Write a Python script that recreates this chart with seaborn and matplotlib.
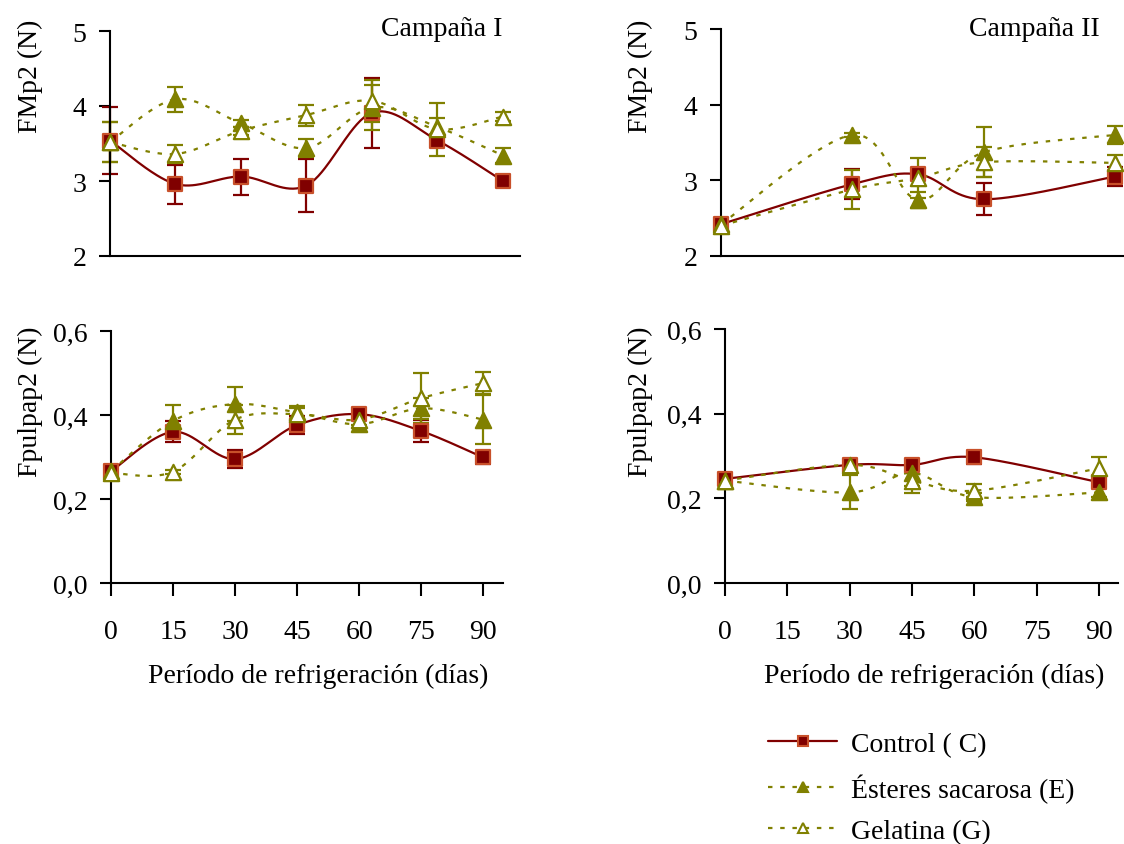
# FMp2 and Fpulpap2 during cold storage, two seasons, three treatments

import numpy as np
import pandas as pd
import seaborn as sns
import matplotlib.pyplot as plt
from matplotlib.lines import Line2D
from matplotlib.ticker import FuncFormatter

# Days of storage
days_I = [0, 15, 30, 45, 60, 75, 90]
days_II = [0, 30, 45, 60, 90]

# FMp2 (N) - Campaña I
fm_I_C = [3.54, 2.96, 3.06, 2.94, 3.91, 3.54, 3.00]
fm_I_C_err = [0.45, 0.26, 0.24, 0.35, 0.47, 0.05, 0.03]
fm_I_E = [3.52, 4.09, 3.77, 3.44, 3.98, 3.72, 3.34]
fm_I_E_err = [0.27, 0.17, 0.05, 0.12, 0.30, 0.12, 0.10]
fm_I_G = [3.52, 3.36, 3.67, 3.88, 4.07, 3.69, 3.86]
fm_I_G_err = [0.27, 0.12, 0.05, 0.14, 0.28, 0.35, 0.06]

# FMp2 (N) - Campaña II
fm_II_C = [2.42, 2.95, 3.08, 2.75, 3.05]
fm_II_C_err = [0.03, 0.20, 0.06, 0.21, 0.13]
fm_II_E = [2.42, 3.60, 2.74, 3.37, 3.60]
fm_II_E_err = [0.03, 0.03, 0.10, 0.33, 0.12]
fm_II_G = [2.40, 2.88, 3.03, 3.24, 3.23]
fm_II_G_err = [0.03, 0.26, 0.27, 0.20, 0.11]

# Fpulpap2 (N) - Campaña I
fp_I_C = [0.266, 0.360, 0.295, 0.376, 0.402, 0.362, 0.299]
fp_I_C_err = [0.010, 0.025, 0.022, 0.022, 0.010, 0.027, 0.015]
fp_I_E = [0.266, 0.386, 0.426, 0.406, 0.378, 0.416, 0.389]
fp_I_E_err = [0.008, 0.038, 0.040, 0.015, 0.010, 0.025, 0.058]
fp_I_G = [0.262, 0.265, 0.389, 0.402, 0.389, 0.440, 0.476]
fp_I_G_err = [0.008, 0.005, 0.035, 0.015, 0.012, 0.060, 0.027]

# Fpulpap2 (N) - Campaña II
fp_II_C = [0.246, 0.279, 0.279, 0.297, 0.238]
fp_II_C_err = [0.010, 0.010, 0.010, 0.015, 0.010]
fp_II_E = [0.242, 0.214, 0.260, 0.203, 0.214]
fp_II_E_err = [0.010, 0.040, 0.030, 0.010, 0.010]
fp_II_G = [0.242, 0.279, 0.242, 0.218, 0.271]
fp_II_G_err = [0.010, 0.010, 0.030, 0.015, 0.026]

labels = ["Control ( C)", "Ésteres sacarosa (E)", "Gelatina (G)"]

sns.set_style("ticks")
plt.rcParams['font.family'] = ['Liberation Serif', 'DejaVu Serif']
FS = 20
plt.rcParams['font.size'] = FS
for k in ["text.color", "axes.labelcolor", "xtick.color", "ytick.color"]:
    plt.rcParams[k] = "black"

RED = "#800000"
RED_EDGE = "#C8502A"
OLIVE = "#808000"

styles = {
    "C": dict(color=RED, ls="-", marker="s", mfc=RED, mec=RED_EDGE, ms=10.5),
    "E": dict(color=OLIVE, ls=(0, (2, 3.5)), marker="^", mfc=OLIVE, mec=OLIVE, ms=11),
    "G": dict(color=OLIVE, ls=(0, (2, 3.5)), marker="^", mfc="white", mec=OLIVE, ms=11),
}


def smooth(x, y, n=40):
    # Excel-style smoothed line (Catmull-Rom through the points)
    p = np.column_stack([x, y]).astype(float)
    pad = np.vstack([p[0], p, p[-1]])
    out = []
    t = np.linspace(0, 1, n)[:, None]
    for i in range(len(p) - 1):
        p0, p1, p2, p3 = pad[i], pad[i + 1], pad[i + 2], pad[i + 3]
        c1 = p1 + (p2 - p0) / 6
        c2 = p2 - (p3 - p1) / 6
        b = ((1 - t) ** 3) * p1 + 3 * ((1 - t) ** 2) * t * c1 + 3 * (1 - t) * t ** 2 * c2 + t ** 3 * p2
        out.append(b)
    out = np.vstack(out)
    return out[:, 0], out[:, 1]


def draw_panel(ax, days, series):
    for key, (vals, errs) in series.items():
        st = styles[key]
        df = pd.DataFrame({"dia": days, "valor": vals, "err": errs})
        sx, sy = smooth(df["dia"], df["valor"])
        ax.plot(sx, sy, color=st["color"], ls=st["ls"], lw=1.6, clip_on=False)
        ax.errorbar(df["dia"], df["valor"], yerr=df["err"], fmt="none", ecolor=st["color"],
                    elinewidth=1.6, capsize=6, capthick=1.6, clip_on=False)
        sns.scatterplot(data=df, x="dia", y="valor", ax=ax, marker=st["marker"],
                        color=st["mfc"], edgecolor=st["mec"], linewidth=1.6,
                        s=st["ms"] ** 2, clip_on=False, zorder=5, legend=False)
    ax.set_xlabel("")
    ax.set_ylabel("")
    sns.despine(ax=ax)
    for s in ["left", "bottom"]:
        ax.spines[s].set_linewidth(1.5)
        ax.spines[s].set_color("black")
    ax.tick_params(axis="y", length=8, width=1.5, pad=9, labelsize=FS, colors="black")


fig = plt.figure(figsize=(11.24, 8.45), dpi=100)
W, H = 1124, 845

ax1 = fig.add_axes([110 / W, (H - 257) / H, 410 / W, 225 / H])
ax2 = fig.add_axes([721 / W, (H - 257) / H, 402 / W, 227 / H])
ax3 = fig.add_axes([111 / W, (H - 584) / H, 392 / W, 252 / H])
ax4 = fig.add_axes([725 / W, (H - 584) / H, 393 / W, 254 / H])

draw_panel(ax1, days_I, {"C": (fm_I_C, fm_I_C_err), "E": (fm_I_E, fm_I_E_err), "G": (fm_I_G, fm_I_G_err)})
draw_panel(ax2, days_II, {"C": (fm_II_C, fm_II_C_err), "E": (fm_II_E, fm_II_E_err), "G": (fm_II_G, fm_II_G_err)})
draw_panel(ax3, days_I, {"C": (fp_I_C, fp_I_C_err), "E": (fp_I_E, fp_I_E_err), "G": (fp_I_G, fp_I_G_err)})
draw_panel(ax4, days_II, {"C": (fp_II_C, fp_II_C_err), "E": (fp_II_E, fp_II_E_err), "G": (fp_II_G, fp_II_G_err)})

for ax, xmax in [(ax1, 93.9), (ax2, 91.8)]:
    ax.set_xlim(0, xmax)
    ax.set_ylim(2, 5)
    ax.set_yticks([2, 3, 4, 5])
    ax.set_xticks([])

comma = FuncFormatter(lambda v, pos: f"{v:.1f}".replace(".", ","))
for ax, xmax in [(ax3, 94.8), (ax4, 94.6)]:
    ax.set_xlim(0, xmax)
    ax.set_ylim(0, 0.6)
    ax.set_yticks([0, 0.2, 0.4, 0.6])
    ax.yaxis.set_major_formatter(comma)
    ax.set_xticks([0, 15, 30, 45, 60, 75, 90])
    ax.tick_params(axis="x", length=9, width=1.5, pad=17, labelsize=FS, colors="black")

# Texts
fig.text(502 / W, 1 - 30 / H, "Campaña I", ha="right", va="center", fontsize=FS)
fig.text(1100 / W, 1 - 30 / H, "Campaña II", ha="right", va="center", fontsize=FS)
for x in [30, 640]:
    fig.text(x / W, 1 - 76 / H, "FMp2 (N)", rotation=90, ha="center", va="center", fontsize=FS)
    fig.text(x / W, 1 - 402 / H, "Fpulpap2 (N)", rotation=90, ha="center", va="center", fontsize=FS)
for x in [318, 934]:
    fig.text(x / W, 1 - 676 / H, "Período de refrigeración (días)", ha="center", va="center", fontsize=FS)

# Legend: one entry per row so rows are evenly spaced
for key, lab, yc in zip(["C", "E", "G"], labels, [745, 789, 832]):
    st = styles[key]
    h = Line2D([], [], color=st["color"], ls=st["ls"], lw=1.6, marker=st["marker"],
               mfc=st["mfc"], mec=st["mec"], ms=7.5, mew=1.5)
    fig.legend([h], [lab], loc="center left", bbox_to_anchor=(768 / W, 1 - yc / H),
               frameon=False, fontsize=FS, handlelength=2.5, handletextpad=0.5,
               borderaxespad=0, borderpad=0)

fig.savefig("out.png", dpi=100)
